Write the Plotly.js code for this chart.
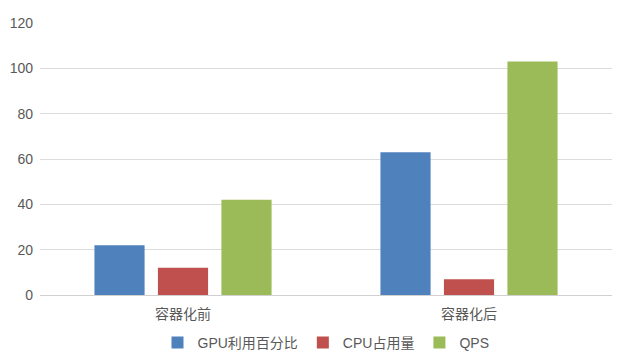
<!DOCTYPE html>
<html><head><meta charset="utf-8">
<script src="https://cdn.plot.ly/plotly-3.0.1.min.js"></script>
<style>html,body{margin:0;padding:0;background:#fff}#c{width:627px;height:361px}</style>
</head><body><div id="c"></div>
<script>
var categories = ['容器化前', '容器化后'];
var seriesNames = ['GPU利用百分比', 'CPU占用量', 'QPS'];
var gpuValues = [22, 63];
var cpuValues = [12, 7];
var qpsValues = [42, 103];
var yTicks = [0, 20, 40, 60, 80, 100, 120];
var colors = ['#4F81BD', '#C0504D', '#9BBB59'];
var vals = [gpuValues, cpuValues, qpsValues];
var font = '"Liberation Sans", "Noto Sans CJK SC", sans-serif';
var traces = vals.map(function(v, i){
  return {type:'bar', x:categories, y:v, name:seriesNames[i], marker:{color:colors[i]}, hoverinfo:'none'};
});
Plotly.newPlot('c', traces, {
  width:627, height:361,
  margin:{l:40, r:15, t:23, b:66},
  paper_bgcolor:'#fff', plot_bgcolor:'#fff',
  barmode:'group', bargap:0.334, bargroupgap:0.21,
  font:{family:font, color:'#595959', size:14},
  xaxis:{automargin:false, showgrid:false, showline:false, zeroline:false, ticks:'', ticklabelstandoff:9, tickfont:{size:14, color:'#595959'}},
  yaxis:{automargin:false, range:[0,120], tickvals:yTicks, showgrid:true, gridcolor:'#DCDCDC', gridwidth:1, zeroline:true, zerolinecolor:'#D0D0D0', zerolinewidth:1, showline:false, ticks:'', ticklabelstandoff:6, tickfont:{size:14, color:'#595959'}},
  legend:{orientation:'h', x:0.5, xanchor:'center', yref:'container', y:0.05, yanchor:'middle', font:{size:14, color:'#595959'}, itemwidth:30, tracegroupgap:0}
}, {staticPlot:true});
</script></body></html>
